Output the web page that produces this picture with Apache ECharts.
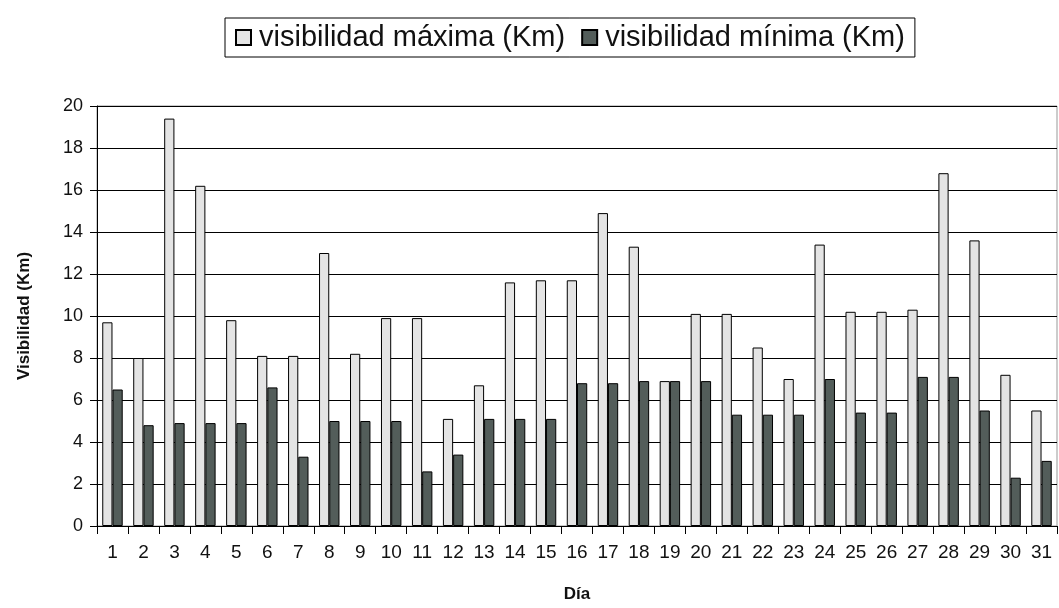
<!DOCTYPE html>
<html>
<head>
<meta charset="utf-8">
<script src="https://cdn.jsdelivr.net/npm/echarts@6/dist/echarts.min.js"></script>
<style>
  html, body { margin: 0; padding: 0; background: #fff; }
  #chart { width: 1059px; height: 608px; }
</style>
</head>
<body>
<div id="chart"></div>
<script>
const dias = ["1","2","3","4","5","6","7","8","9","10","11","12","13","14","15","16",
  "17","18","19","20","21","22","23","24","25","26","27","28","29","30","31"];
const visMaxima = [9.7, 8.0, 19.4, 16.2, 9.8, 8.1, 8.1, 13.0, 8.2, 9.9, 9.9, 5.1, 6.7, 11.6, 11.7, 11.7,
  14.9, 13.3, 6.9, 10.1, 10.1, 8.5, 7.0, 13.4, 10.2, 10.2, 10.3, 16.8, 13.6, 7.2, 5.5];
const visMinima = [6.5, 4.8, 4.9, 4.9, 4.9, 6.6, 3.3, 5.0, 5.0, 5.0, 2.6, 3.4, 5.1, 5.1, 5.1, 6.8,
  6.8, 6.9, 6.9, 6.9, 5.3, 5.3, 5.3, 7.0, 5.4, 5.4, 7.1, 7.1, 5.5, 2.3, 3.1];

const chart = echarts.init(document.getElementById("chart"));

chart.setOption({
  animation: false,
  textStyle: { fontFamily: "Liberation Sans, Arial, sans-serif" },
  legend: {
    top: 18,
    left: 225,
    padding: [5, 10],
    borderColor: "#000",
    borderWidth: 1,
    icon: "rect",
    itemWidth: 15,
    itemHeight: 15,
    itemGap: 16,
    textStyle: { fontSize: 29, color: "#111", padding: [0, 0, 0, 3] },
    data: ["visibilidad máxima (Km)", "visibilidad mínima (Km)"]
  },
  grid: {
    left: 97,
    right: 2,
    top: 106,
    bottom: 80,
    show: true,
    borderColor: "#999",
    borderWidth: 1
  },
  xAxis: {
    type: "category",
    data: dias,
    name: "Día",
    nameLocation: "middle",
    nameGap: 60,
    nameTextStyle: { fontSize: 17, fontWeight: "bold", color: "#111" },
    axisLine: { lineStyle: { color: "#000", width: 1 } },
    axisTick: { show: true, length: 8, lineStyle: { color: "#000" } },
    axisLabel: { fontSize: 19, color: "#111", margin: 17, interval: 0 }
  },
  yAxis: {
    type: "value",
    min: 0,
    max: 20,
    interval: 2,
    name: "Visibilidad (Km)",
    nameLocation: "middle",
    nameGap: 64,
    nameTextStyle: { fontSize: 17, fontWeight: "bold", color: "#111" },
    axisLine: { show: true, lineStyle: { color: "#000" } },
    axisTick: { show: true, length: 7, lineStyle: { color: "#000" } },
    axisLabel: { fontSize: 18, color: "#111", margin: 14 },
    splitLine: { lineStyle: { color: "#000", width: 1 } }
  },
  series: [
    {
      name: "visibilidad máxima (Km)",
      type: "bar",
      data: visMaxima,
      barGap: "0%",
      barCategoryGap: "34%",
      itemStyle: { color: "#e4e4e4", borderColor: "#000", borderWidth: 1 }
    },
    {
      name: "visibilidad mínima (Km)",
      type: "bar",
      data: visMinima,
      itemStyle: { color: "#535d5a", borderColor: "#000", borderWidth: 1 }
    }
  ]
});
</script>
</body>
</html>
